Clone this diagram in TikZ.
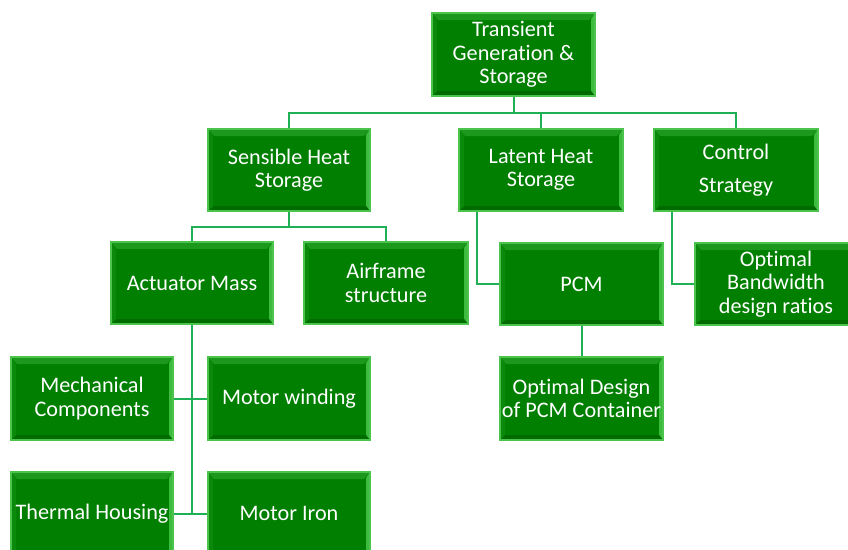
\documentclass[tikz,border=0pt]{standalone}
\usepackage{fontspec}
\setmainfont{Carlito}[Ligatures=NoCommon]
\definecolor{boxfill}{HTML}{007F00}
\definecolor{boxedge}{HTML}{4CC34C}
\definecolor{bevtop}{HTML}{1C981C}
\definecolor{bevright}{HTML}{3DBB3D}
\definecolor{bevbot}{HTML}{006C00}
\definecolor{bevleft}{HTML}{0A890A}
\definecolor{linecol}{HTML}{1FAF55}
\newcommand{\gfont}{\fontsize{22.2}{23.5}\selectfont}
\tikzset{
  gbox/.style={draw=boxedge, line width=1.3pt, fill=boxfill, text=white, align=center,
    font=\gfont, minimum width=162pt, minimum height=82pt, inner sep=0pt,
    path picture={
      \fill[bevtop] (path picture bounding box.north west) -- (path picture bounding box.north east)
        -- ([xshift=-6pt,yshift=-7pt]path picture bounding box.north east)
        -- ([xshift=6pt,yshift=-7pt]path picture bounding box.north west) -- cycle;
      \fill[bevright] (path picture bounding box.north east) -- (path picture bounding box.south east)
        -- ([xshift=-4pt,yshift=5pt]path picture bounding box.south east)
        -- ([xshift=-4pt,yshift=-6pt]path picture bounding box.north east) -- cycle;
      \fill[bevbot] (path picture bounding box.south west) -- (path picture bounding box.south east)
        -- ([xshift=-4pt,yshift=5pt]path picture bounding box.south east)
        -- ([xshift=5pt,yshift=5pt]path picture bounding box.south west) -- cycle;
      \fill[bevleft] (path picture bounding box.north west) -- (path picture bounding box.south west)
        -- ([xshift=5pt,yshift=5pt]path picture bounding box.south west)
        -- ([xshift=5pt,yshift=-7pt]path picture bounding box.north west) -- cycle;
    }},
  conn/.style={draw=linecol, line width=2pt}
}
\begin{document}
\begin{tikzpicture}[x=1pt,y=-1pt]
\useasboundingbox (0,0) rectangle (848,549);
\node[gbox, minimum width=163pt, minimum height=83pt] (top) at (513.5,54.5) {Transient\\Generation \&\\Storage};
\node[gbox] (sens) at (289,170) {Sensible Heat\\Storage};
\node[gbox, minimum width=164pt] (lat) at (541,170) {Latent Heat\\Storage};
\node[gbox, minimum width=164pt] (ctrl) at (736,170) {Control\\[9.5pt]Strategy};
\node[gbox] (act) at (192,283) {Actuator Mass};
\node[gbox, minimum width=164pt] (air) at (386,283) {Airframe\\structure};
\node[gbox, minimum width=163pt] (pcm) at (581.5,284) {PCM};
\node[gbox] (band) at (776,284) {Optimal\\Bandwidth\\design ratios};
\node[gbox, minimum width=163pt, minimum height=83pt] (des) at (581.5,398.5) {Optimal Design\\of PCM Container};
\node[gbox, minimum height=83pt] (mech) at (92,398.5) {Mechanical\\Components};
\node[gbox, minimum height=83pt] (wind) at (289,398.5) {Motor winding};
\node[gbox, minimum height=83pt] (therm) at (92,513.5) {Thermal Housing};
\node[gbox, minimum height=83pt] (iron) at (289,513.5) {Motor Iron};
\coordinate (j1) at (513.5,113);
\coordinate (j2) at (289,227);
\draw[conn] (top.south) -- (j1);
\draw[conn] (j1) -| (sens.north);
\draw[conn] (j1) -| (lat.north);
\draw[conn] (j1) -| (ctrl.north);
\draw[conn] (sens.south) -- (j2);
\draw[conn] (j2) -| (act.north);
\draw[conn] (j2) -| (air.north);
\draw[conn] ([xshift=-64pt]lat.south) |- (pcm.west);
\draw[conn] ([xshift=-64pt]ctrl.south) |- (band.west);
\draw[conn] (pcm.south) -- (des.north);
\draw[conn] (act.south) -- (act.south |- therm.east);
\draw[conn] (mech.east) -- (wind.west);
\draw[conn] (therm.east) -- (iron.west);
\end{tikzpicture}
\end{document}
